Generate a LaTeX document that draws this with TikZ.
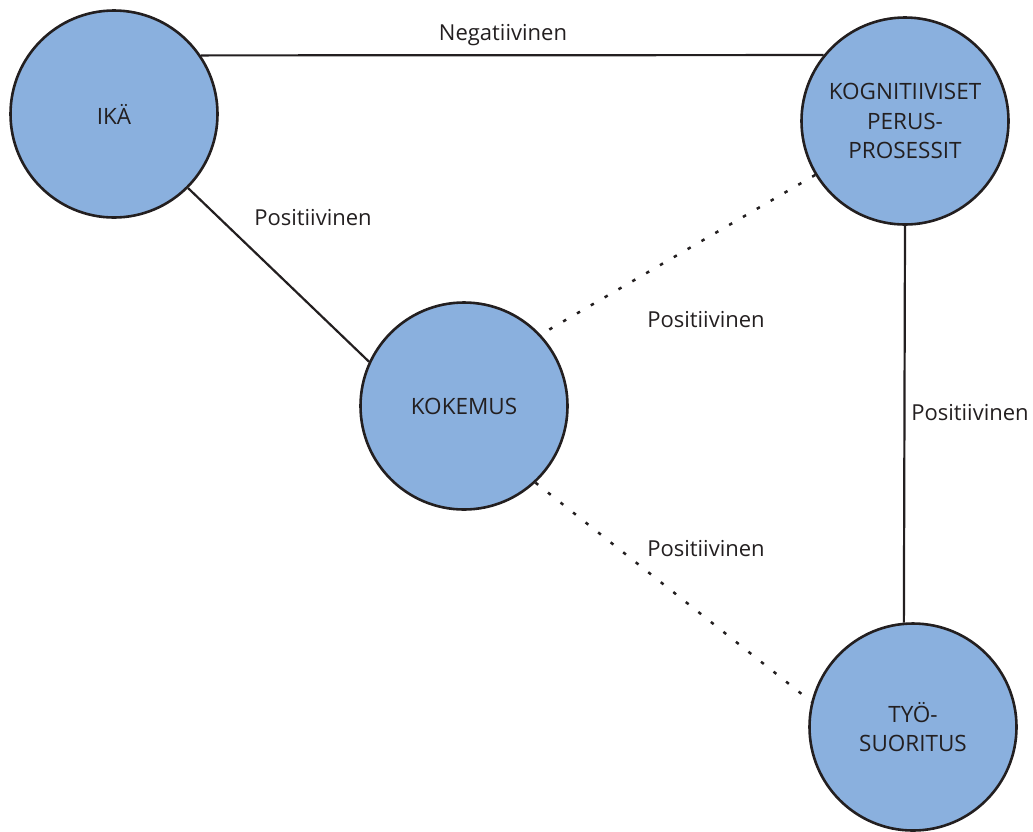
\documentclass[tikz,border=0pt]{standalone}
\usepackage{fontspec}
\setmainfont{Open Sans}
\definecolor{circfill}{RGB}{138,176,222}
\definecolor{inkdark}{RGB}{35,31,32}
\begin{document}
\begin{tikzpicture}[x=1pt,y=-1pt,
  factor/.style={circle, draw=inkdark, line width=2.6pt, fill=circfill,
    minimum size=207pt, inner sep=0pt, align=center, text=inkdark,
    font=\fontsize{22.5}{29.5}\selectfont},
  link/.style={draw=inkdark, line width=2.2pt},
  weaklink/.style={draw=inkdark, line width=2.5pt, dash pattern=on 3.5pt off 12.5pt},
  tag/.style={text=inkdark, font=\fontsize{22}{26}\selectfont, inner sep=0pt}]
  \useasboundingbox (0,0) rectangle (1033,831);

  % factors
  \node[factor] (ika) at (114,114) {IKÄ};
  \node[factor] (kog) at (905,121) {KOGNITIIVISET\\PERUS-\\PROSESSIT};
  \node[factor] (kok) at (464,406) {KOKEMUS};
  \node[factor] (tyo) at (913,727) {TYÖ-\\SUORITUS};

  % relations
  \draw[link] (ika.34.6) -- (kog.141.3);
  \draw[link] (ika.-45) -- (kok.155);
  \draw[link] (kog.-90.5) -- (tyo.95);
  \draw[weaklink] (kog.211) -- (kok.43);
  \draw[weaklink] (kok.-47) -- (tyo.166);

  % relation labels
  \node[tag] (lneg) at (503,35) {Negatiivinen};
  \node[tag] (lp1) at (313,218) {Positiivinen};
  \node[tag] (lp2) at (706,320) {Positiivinen};
  \node[tag] (lp3) at (970,413) {Positiivinen};
  \node[tag] (lp4) at (706,549) {Positiivinen};
\end{tikzpicture}
\end{document}
